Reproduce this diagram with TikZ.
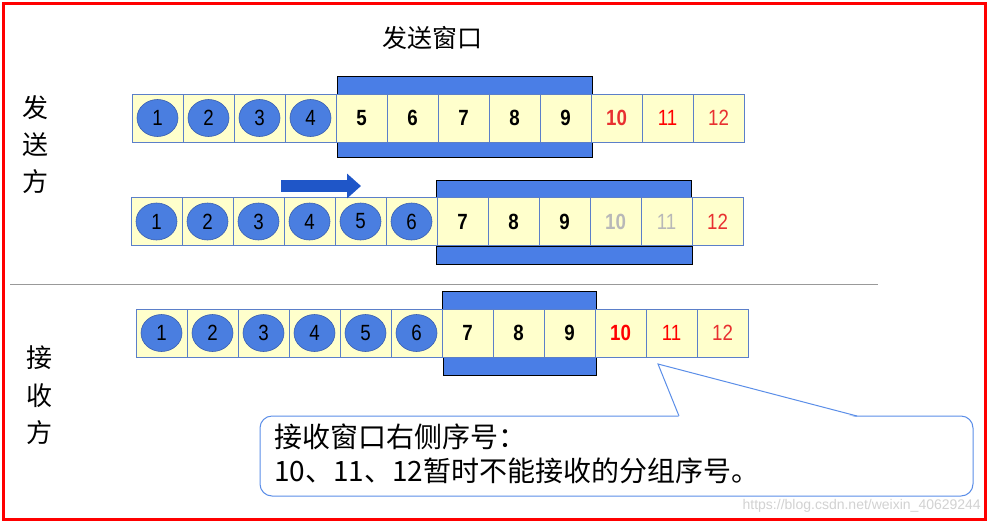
\documentclass[tikz,border=0pt]{standalone}
\usepackage{fontspec}
\setmainfont{Liberation Sans}
\newfontfamily\cjk{Noto Sans CJK SC}
\usetikzlibrary{shapes.geometric,arrows.meta}
\definecolor{cellfill}{HTML}{FFFFCC}
\definecolor{cellline}{HTML}{5B7FC9}
\definecolor{ballfill}{HTML}{4A7EE0}
\definecolor{ballline}{HTML}{3A5FB0}
\definecolor{barfill}{HTML}{4A7EE6}
\definecolor{arrowblue}{HTML}{1F56C8}
\definecolor{redA}{HTML}{FF0000}
\definecolor{redB}{HTML}{E83030}
\definecolor{greyA}{HTML}{B8B8B8}
\definecolor{callline}{HTML}{5B8EE8}
\tikzset{
  cellbox/.style={draw=cellline, fill=cellfill, line width=0.9pt, minimum width=51pt, minimum height=48pt, inner sep=0pt, outer sep=0pt},
  ball/.style={ellipse, draw=ballline, fill=ballfill, line width=0.6pt, minimum width=41pt, minimum height=37pt, inner sep=0pt},
  num/.style={font=\fontsize{22}{22}\selectfont, xscale=0.85, inner sep=0pt},
  bold/.style={num, font=\fontsize{22}{22}\selectfont\bfseries},
  plain/.style={num},
  bar/.style={draw=black, fill=barfill, line width=1pt},
  side/.style={font=\cjk\fontsize{26}{26}\selectfont, inner sep=0pt}
}
\begin{document}
\begin{tikzpicture}[x=1pt,y=-1pt]
\useasboundingbox (0,0) rectangle (989,523);
\fill[white] (0,0) rectangle (989,523);
\draw[red, line width=3pt] (3.5,3.5) rectangle (985.5,519.5);

% title
\node[font=\cjk\fontsize{25}{25}\selectfont] (title) at (432,38) {发送窗口};
% side labels
\node[side] (s1) at (36,108) {发};
\node[side] (s2) at (36,145) {送};
\node[side] (s3) at (36,182) {方};
\node[side] (r1) at (40,358) {接};
\node[side] (r2) at (40,396) {收};
\node[side] (r3) at (40,433) {方};

% separator
\draw[gray!80, line width=0.8pt] (10,284) -- (878,284);

% window bars row 1
\draw[bar] (337,76) rectangle (592,94);
\draw[bar] (337,142) rectangle (592,157);
% window bars row 2
\draw[bar] (436,180) rectangle (691,197);
\draw[bar] (436,246) rectangle (692,264);
% window bars row 3
\draw[bar] (442,291) rectangle (596,309);
\draw[bar] (443,357) rectangle (596,375);

% row 1
\foreach \i in {1,...,12}{
  \node[cellbox] (a\i) at ({132+25.5+51*(\i-1)},118) {};
}
\foreach \i in {1,...,4}{ \node[ball] (ab\i) at (a\i) {}; \node[plain] at (a\i) {\i}; }
\foreach \i in {5,...,9}{ \node[bold] at (a\i) {\i}; }
\node[bold, text=redB] at (a10) {10};
\node[plain, text=redA] at (a11) {11};
\node[plain, text=redB] at (a12) {12};

% row 2
\foreach \i in {1,...,12}{
  \node[cellbox] (b\i) at ({131+25.5+51*(\i-1)},221.5) {};
}
\foreach \i in {1,...,6}{ \node[ball] (bb\i) at (b\i) {}; \node[plain] at (b\i) {\i}; }
\foreach \i in {7,...,9}{ \node[bold] at (b\i) {\i}; }
\node[bold, text=greyA] at (b10) {10};
\node[plain, text=greyA] at (b11) {11};
\node[plain, text=redB] at (b12) {12};

% moving arrow
\coordinate (arrS) at (281,186);
\coordinate (arrE) at (361,186);
\draw[arrowblue, line width=12pt, -{Triangle[length=14pt,width=24pt]}] (arrS) -- (arrE);

% row 3
\foreach \i in {1,...,12}{
  \node[cellbox] (c\i) at ({136+25.5+51*(\i-1)},333) {};
}
\foreach \i in {1,...,6}{ \node[ball] (cb\i) at (c\i) {}; \node[plain] at (c\i) {\i}; }
\foreach \i in {7,...,9}{ \node[bold] at (c\i) {\i}; }
\node[bold, text=redA] at (c10) {10};
\node[plain, text=redA] at (c11) {11};
\node[plain, text=redB] at (c12) {12};

% callout
\node[draw=callline, line width=1pt, rounded corners=12pt, fill=white, minimum width=713pt, minimum height=80pt, inner sep=0pt] (callout) at (616.5,456) {};
\coordinate (tip) at (658,364);
\coordinate (baseL) at (679,416);
\coordinate (baseR) at (857,416);
\fill[white] ([yshift=-1.5pt]baseL) -- (tip) -- ([yshift=-1.5pt]baseR) -- cycle;
\draw[callline, line width=1pt] (baseL) -- (tip) -- (baseR);
\node[anchor=west, align=left, inner sep=0pt, font=\cjk\fontsize{28}{34}\selectfont] (ctext) at (274,454) {接收窗口右侧序号：\\10、11、12暂时不能接收的分组序号。};

% watermark
\node[anchor=east, text=gray!35, font=\fontsize{14}{14}\selectfont, inner sep=0pt] (wm) at (981,506) {https://blog.csdn.net/weixin\_40629244};
\end{tikzpicture}
\end{document}
